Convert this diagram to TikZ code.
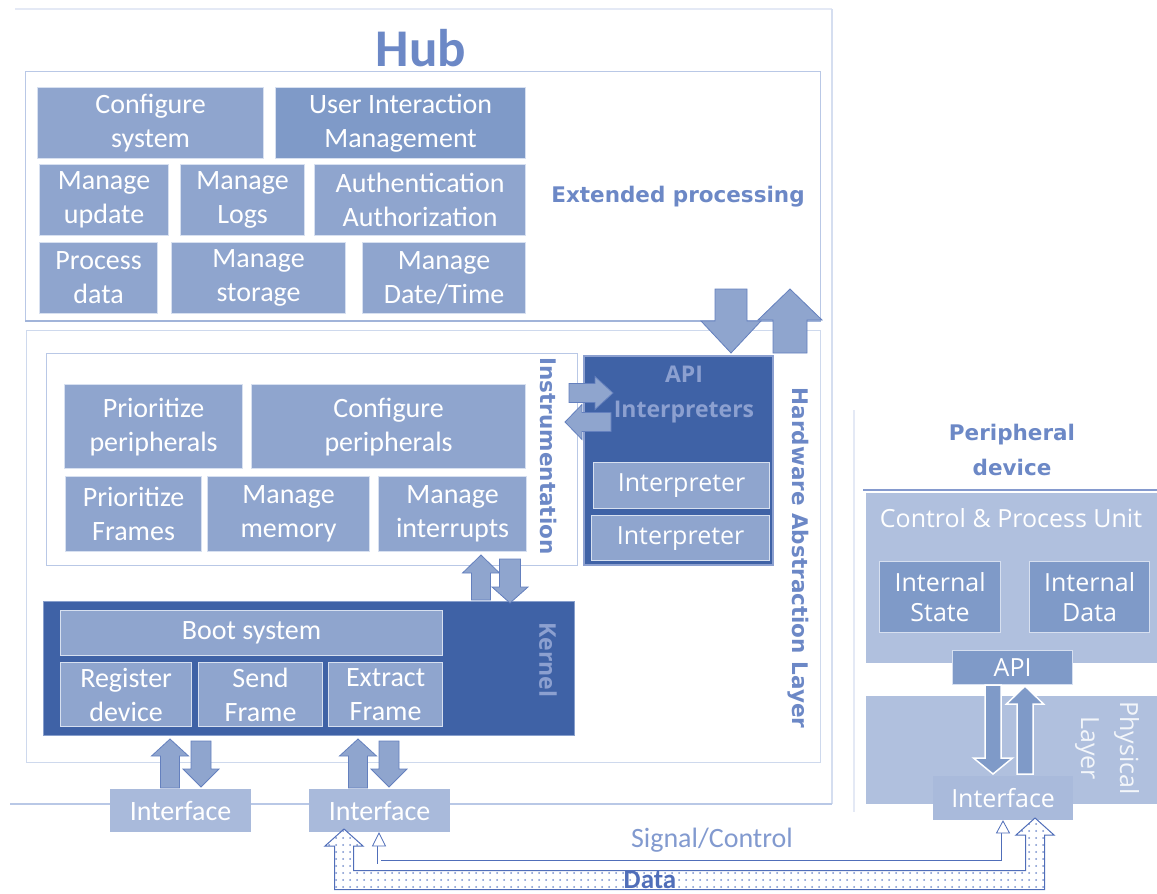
\documentclass[tikz,border=0pt]{standalone}
\usepackage{fontspec}
\setmainfont{Carlito}
\newfontfamily\osans{Open Sans}
\newfontfamily\dvs{DejaVu Sans}
\usetikzlibrary{calc,patterns.meta}
\definecolor{boxc}{RGB}{143,165,206}
\definecolor{boxd}{RGB}{127,154,200}
\definecolor{darkb}{RGB}{63,98,166}
\definecolor{lightb}{RGB}{169,186,219}
\definecolor{panel}{RGB}{176,192,222}
\definecolor{headc}{RGB}{108,136,198}
\definecolor{framec}{RGB}{185,200,230}
\definecolor{faint}{RGB}{228,233,245}
\definecolor{arrline}{RGB}{100,128,190}
\definecolor{boxedge}{RGB}{215,224,240}
\definecolor{apitext}{RGB}{140,160,208}
\definecolor{linec}{RGB}{80,110,185}
\definecolor{dotc}{RGB}{120,145,205}
\newcommand\bxn[7]{\node[#1, minimum width=#5pt, minimum height=#6pt] (#2) at (#3,#4) {#7};}
\newcommand\barrow[6]{%
  \coordinate (tmpH) at ($(#3)!#6!(#2)$);
  \path[#1] ($(#2)!#4!90:(#3)$) -- ($(tmpH)!#4!90:(#3)$) -- ($(tmpH)!#5!90:(#3)$) -- (#3)
    -- ($(tmpH)!#5!-90:(#3)$) -- ($(tmpH)!#4!-90:(#3)$) -- ($(#2)!#4!-90:(#3)$) -- cycle;}
\tikzset{
  mbox/.style={fill=boxc, draw=boxedge, line width=1.2pt, text=white, align=center,
    inner sep=0pt, anchor=north west, font=\fontsize{28}{34}\selectfont},
  dbox/.style={mbox, fill=boxd},
  ibox/.style={mbox, font=\osans\fontsize{25}{30}\selectfont},
  lbox/.style={mbox, fill=lightb, draw=lightb},
  head/.style={text=headc, font=\dvs\bfseries\fontsize{21.5}{35}\selectfont, align=center, inner sep=0pt},
  barr/.style={fill=boxc, draw=arrline, line width=0.8pt},
  parr/.style={fill=boxd, draw=white, line width=1.5pt},
}
\begin{document}
\begin{tikzpicture}[x=1pt,y=-1pt]
\useasboundingbox (0,0) rectangle (1157,894);
% Hub frame
\draw[faint, line width=1.2pt] (15,9) -- (832,9);
\draw[framec!60!white, line width=1.2pt] (832,9) -- (832,804);
\draw[framec, line width=1.2pt] (10,804) -- (832,804);
% Peripheral faint line
\draw[faint, line width=1.2pt] (854,410) -- (854,812);
% Extended processing frame
\node[draw=framec, line width=1.2pt, anchor=north west, minimum width=795pt, minimum height=249pt, inner sep=0pt] (ext) at (25,71) {};
\draw[framec!80!darkb, line width=2.5pt] (ext.south west) -- (ext.south east);
% HAL frame
\node[draw=framec!70!white, line width=1.2pt, anchor=north west, minimum width=794pt, minimum height=432pt, inner sep=0pt] (hal) at (26,330) {};
% Instrumentation frame
\node[draw=framec, fill=white, line width=1.2pt, anchor=north west, minimum width=531pt, minimum height=212pt, inner sep=0pt] (instr) at (46,353) {};
% API interpreters
\node[fill=darkb, draw=apitext, line width=1.5pt, anchor=north west, minimum width=189pt, minimum height=209pt, inner sep=0pt] (api) at (583,355) {};
% Kernel
\node[fill=darkb, draw=framec!60!darkb, line width=1.2pt, anchor=north west, minimum width=531pt, minimum height=134pt, inner sep=0pt] (kern) at (43,601) {};

% Extended processing boxes
\bxn{mbox}{cfg}{37}{87}{226}{71}{Configure\\system}
\bxn{dbox}{uim}{275}{87}{250}{71}{User Interaction\\Management}
\bxn{mbox}{mup}{39}{164}{129}{71}{Manage\\update}
\bxn{mbox}{mlg}{180}{164}{124}{71}{Manage\\Logs}
\bxn{mbox}{aut}{314}{164}{211}{71}{Authentication\\Authorization}
\bxn{mbox}{pda}{39}{242}{118}{71}{Process\\data}
\bxn{mbox}{mst}{171}{242}{174}{71}{Manage\\storage}
\bxn{mbox}{mdt}{362}{242}{163}{71}{Manage\\Date/Time}
% Instrumentation boxes
\bxn{mbox}{ppr}{64}{384}{178}{84}{Prioritize\\peripherals}
\bxn{mbox}{cpr}{251}{384}{274}{84}{Configure\\peripherals}
\bxn{mbox}{pfr}{65}{476}{136}{75}{Prioritize\\Frames}
\bxn{mbox}{mme}{207}{476}{162}{75}{Manage\\memory}
\bxn{mbox}{min}{378}{476}{148}{75}{Manage\\interrupts}
% Kernel boxes
\bxn{mbox}{boot}{60}{610}{382}{45}{Boot system}
\bxn{mbox}{reg}{60}{662}{131}{64}{Register\\device}
\bxn{mbox}{snd}{198}{662}{124}{64}{Send\\Frame}
\bxn{mbox}{exf}{328}{662}{114}{64}{Extract\\Frame}
% Interpreters
\bxn{ibox}{ip1}{593}{462}{176}{46}{Interpreter}
\bxn{ibox}{ip2}{591}{515}{178}{45}{Interpreter}
% Interfaces (hub)
\bxn{lbox}{if1}{110}{789}{140}{42}{Interface}
\bxn{lbox}{if2}{309}{789}{140}{42}{Interface}
% Peripheral device
\draw[linec!70!white, line width=1.2pt] (863,490) -- (1157,490);
\node[fill=panel, anchor=north west, minimum width=291pt, minimum height=170pt, inner sep=0pt] (cpu) at (866,493) {};
\node[fill=panel, anchor=north west, minimum width=291pt, minimum height=108pt, inner sep=0pt] (phys) at (866,696) {};
\bxn{ibox, fill=boxd}{ist}{879}{561}{121}{71}{Internal\\State}
\bxn{ibox, fill=boxd}{idt}{1029}{561}{120}{71}{Internal\\Data}
\bxn{ibox, fill=boxd}{papi}{952}{650}{120}{34}{API}
\bxn{ibox, fill=lightb, draw=lightb}{pif}{933}{776}{139}{43}{Interface}

% Block arrows
\coordinate (a1s) at (731,289); \coordinate (a1t) at (731,353);
\coordinate (a2s) at (790,353); \coordinate (a2t) at (790,289);
\coordinate (a3s) at (569,393); \coordinate (a3t) at (613,393);
\coordinate (a4s) at (611,422); \coordinate (a4t) at (565,422);
\coordinate (a5s) at (481,600); \coordinate (a5t) at (481,555);
\coordinate (a6s) at (510,559); \coordinate (a6t) at (510,603);
\coordinate (a7s) at (170,788); \coordinate (a7t) at (170,739);
\coordinate (a8s) at (201,741); \coordinate (a8t) at (201,787);
\coordinate (a9s) at (358,788); \coordinate (a9t) at (358,739);
\coordinate (a10s) at (389,741); \coordinate (a10t) at (389,787);
\coordinate (a11s) at (993,685); \coordinate (a11t) at (993,774);
\coordinate (a12s) at (1025,774); \coordinate (a12t) at (1025,686);
\barrow{barr}{a1s}{a1t}{16pt}{30pt}{32pt}
\barrow{barr}{a2s}{a2t}{17pt}{32pt}{31pt}
\barrow{barr}{a3s}{a3t}{9.5pt}{16.5pt}{18pt}
\barrow{barr}{a4s}{a4t}{9.5pt}{17.5pt}{17pt}
\barrow{barr}{a5s}{a5t}{9.5pt}{18.5pt}{18pt}
\barrow{barr}{a6s}{a6t}{10.5pt}{18pt}{16pt}
\barrow{barr}{a7s}{a7t}{9.5pt}{18.5pt}{17pt}
\barrow{barr}{a8s}{a8t}{10pt}{18pt}{18pt}
\barrow{barr}{a9s}{a9t}{9.5pt}{18.5pt}{17pt}
\barrow{barr}{a10s}{a10t}{10pt}{18pt}{18pt}
\barrow{parr}{a11s}{a11t}{8pt}{19.5pt}{16pt}
\barrow{parr}{a12s}{a12t}{8pt}{18.5pt}{18pt}

% Data connector (hollow dotted arrow)
\coordinate (dA) at (344,829);
\coordinate (dB) at (1035,818);
\path[fill=white] (dA) -- (363,846) -- (353.5,846) -- (353.5,870.5) -- (1025.5,870.5) -- (1025.5,835) -- (1016,835) -- (dB)
  -- (1054,835) -- (1044.5,835) -- (1044.5,889.5) -- (334.5,889.5) -- (334.5,846) -- (325,846) -- cycle;
\path[pattern={Dots[distance=7pt, radius=1pt]}, pattern color=dotc] (dA) -- (363,846) -- (353.5,846) -- (353.5,870.5) -- (1025.5,870.5) -- (1025.5,835) -- (1016,835) -- (dB)
  -- (1054,835) -- (1044.5,835) -- (1044.5,889.5) -- (334.5,889.5) -- (334.5,846) -- (325,846) -- cycle;
\draw[linec, line width=1pt, line join=miter] (dA) -- (363,846) -- (353.5,846) -- (353.5,870.5) -- (1025.5,870.5) -- (1025.5,835) -- (1016,835) -- (dB)
  -- (1054,835) -- (1044.5,835) -- (1044.5,889.5) -- (334.5,889.5) -- (334.5,846) -- (325,846) -- cycle;
% Signal/Control connector
\coordinate (sA) at (379,833);
\coordinate (sB) at (1003,821);
\draw[linec, line width=0.8pt, double=white, double distance=3pt] (379,846) -- (379,862) -- (1003,862) -- (1003,833);
\draw[linec, fill=white, line width=0.8pt] (sA) -- (385.5,846) -- (372.5,846) -- cycle;
\draw[linec, fill=white, line width=0.8pt] (sB) -- (1009.5,833) -- (996.5,833) -- cycle;

% Labels
\node[text=headc, font=\bfseries\fontsize{53}{60}\selectfont, inner sep=0pt] (hub) at (421,48) {Hub};
\node[head] (extl) at (678,197) {Extended processing};
\node[head, rotate=-90] (hall) at (798,558) {Hardware Abstraction Layer};
\node[head, rotate=-90] (insl) at (549,456) {Instrumentation};
\node[text=apitext, font=\osans\bfseries\fontsize{23}{30}\selectfont, rotate=-90, inner sep=0pt] (kerl) at (548,660) {Kernel};
\node[text=apitext, font=\osans\bfseries\fontsize{23}{35}\selectfont, align=center, inner sep=0pt] (apil) at (684,395) {API\\Interpreters};
\node[head] (perl) at (1012,450) {Peripheral\\device};
\node[text=white, font=\osans\fontsize{25}{30}\selectfont, inner sep=0pt] (cpul) at (1011,518) {Control \& Process Unit};
\node[text=white!85!panel, font=\osans\fontsize{25}{39}\selectfont, align=center, rotate=-90, inner sep=0pt] (phyl) at (1107,748) {Physical\\Layer};
\node[text=headc!85!white, font=\fontsize{28}{34}\selectfont, inner sep=0pt] (sigl) at (712,840) {Signal/Control};
\node[text=linec, font=\bfseries\fontsize{27}{34}\selectfont, inner sep=0pt] (datl) at (650,880) {Data};
\end{tikzpicture}
\end{document}
